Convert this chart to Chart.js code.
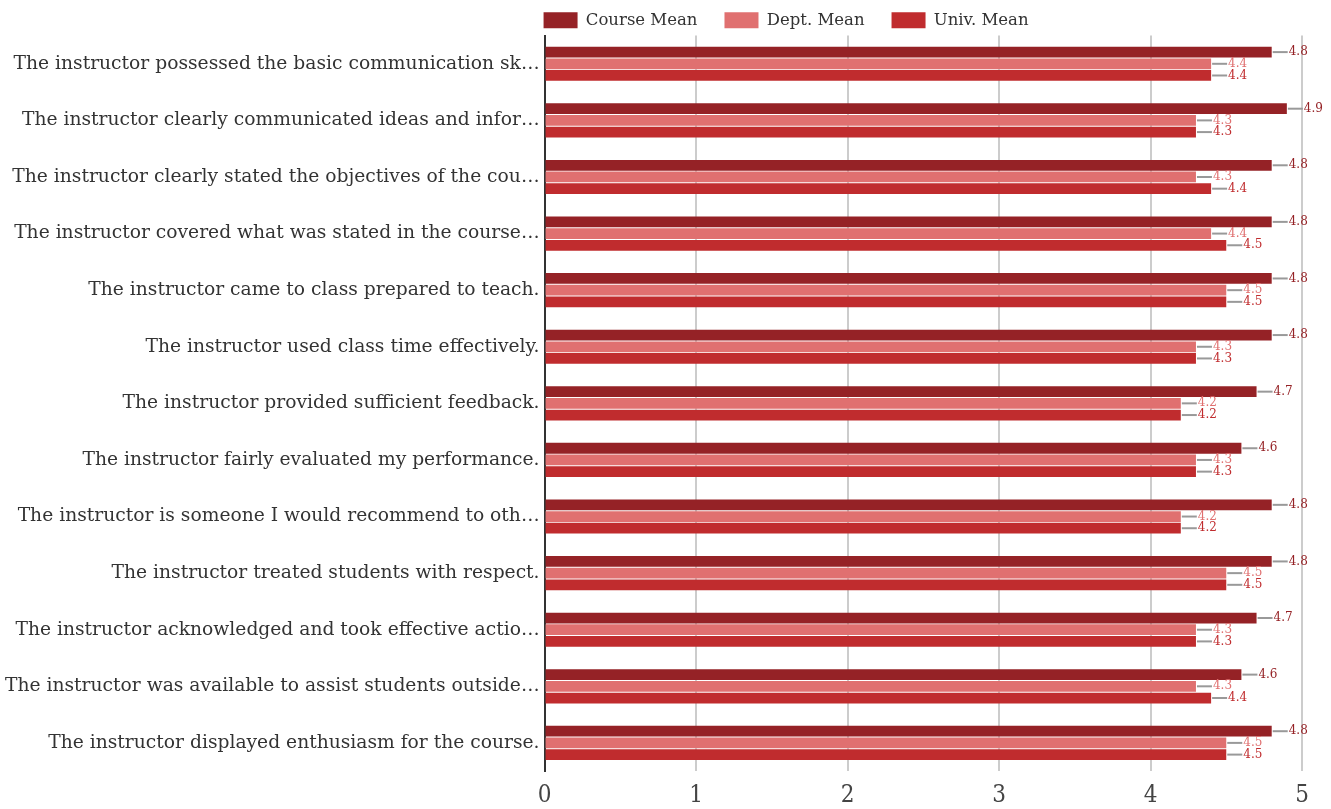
<!DOCTYPE html>
<html>
<head>
<meta charset="utf-8">
<script src="https://cdn.jsdelivr.net/npm/chart.js@4/dist/chart.umd.min.js"></script>
<style>
  body { margin: 0; background: #fff; }
  #wrap { width: 1331px; height: 809px; }
</style>
</head>
<body>
<div id="wrap"><canvas id="evalChart"></canvas></div>
<script>
// question labels, as they appear (already cut) in the report
const questions = [
  'The instructor possessed the basic communication sk…',
  'The instructor clearly communicated ideas and infor…',
  'The instructor clearly stated the objectives of the cou…',
  'The instructor covered what was stated in the course…',
  'The instructor came to class prepared to teach.',
  'The instructor used class time effectively.',
  'The instructor provided sufficient feedback.',
  'The instructor fairly evaluated my performance.',
  'The instructor is someone I would recommend to oth…',
  'The instructor treated students with respect.',
  'The instructor acknowledged and took effective actio…',
  'The instructor was available to assist students outside…',
  'The instructor displayed enthusiasm for the course.'
];
const courseMean = [4.8, 4.9, 4.8, 4.8, 4.8, 4.8, 4.7, 4.6, 4.8, 4.8, 4.7, 4.6, 4.8];
const deptMean   = [4.4, 4.3, 4.3, 4.4, 4.5, 4.3, 4.2, 4.3, 4.2, 4.5, 4.3, 4.3, 4.5];
const univMean   = [4.4, 4.3, 4.4, 4.5, 4.5, 4.3, 4.2, 4.3, 4.2, 4.5, 4.3, 4.4, 4.5];
const xTicks = [0, 1, 2, 3, 4, 5];

const serif = "'DejaVu Serif', serif";

// leader line + value next to each bar
const valueLabels = {
  id: 'valueLabels',
  afterDatasetsDraw(chart) {
    const ctx = chart.ctx;
    ctx.save();
    chart.data.datasets.forEach((ds, i) => {
      const meta = chart.getDatasetMeta(i);
      if (meta.hidden) return;
      meta.data.forEach((bar, j) => {
        const x = bar.x, y = bar.y;
        ctx.strokeStyle = '#999';
        ctx.lineWidth = 2;
        ctx.beginPath();
        ctx.moveTo(x + 1, y);
        ctx.lineTo(x + 16, y);
        ctx.stroke();
        ctx.fillStyle = ds.backgroundColor;
        ctx.font = '12px ' + serif;
        ctx.textAlign = 'left';
        ctx.textBaseline = 'middle';
        ctx.fillText(ds.data[j].toFixed(1), x + 17, y);
      });
    });
    ctx.restore();
  }
};

// legend starts at the left edge of the plot
const legendShift = {
  id: 'legendShift',
  afterLayout(chart) {
    const lg = chart.legend;
    const dx = chart.chartArea.left - 1 - (lg.left + lg.options.labels.padding);
    lg.left += dx;
    lg.right += dx;
    lg.top += 3;
    lg.bottom += 3;
  }
};

new Chart(document.getElementById('evalChart'), {
  type: 'bar',
  data: {
    labels: questions,
    datasets: [
      { label: 'Course Mean', data: courseMean, backgroundColor: '#952226' },
      { label: 'Dept. Mean', data: deptMean, backgroundColor: '#e07070' },
      { label: 'Univ. Mean', data: univMean, backgroundColor: '#c02c2e' }
    ]
  },
  options: {
    indexAxis: 'y',
    responsive: true,
    maintainAspectRatio: false,
    animation: false,
    categoryPercentage: 0.62,
    barPercentage: 0.92,
    layout: { padding: { left: 0, right: 29, top: -18, bottom: -11 } },
    plugins: {
      tooltip: { enabled: false },
      legend: {
        position: 'top',
        align: 'start',
        fullSize: false,
        labels: {
          boxWidth: 34,
          boxHeight: 16,
          padding: 27,
          color: '#333',
          font: { family: serif, size: 16.5 }
        }
      }
    },
    scales: {
      x: {
        min: 0,
        max: 5,
        afterBuildTicks(axis) { axis.ticks = xTicks.map(v => ({ value: v })); },
        grid: { color: '#cccccc', lineWidth: 2, drawTicks: false },
        border: { display: false },
        ticks: {
          color: '#444',
          padding: 10,
          font: { family: "'DejaVu Serif Condensed', " + serif, size: 24 }
        }
      },
      y: {
        grid: { display: false, drawTicks: false },
        border: { display: true, color: '#333', width: 2 },
        ticks: {
          color: '#333',
          padding: 5,
          font: { family: serif, size: 18.7 }
        }
      }
    }
  },
  plugins: [valueLabels, legendShift]
});
</script>
</body>
</html>
